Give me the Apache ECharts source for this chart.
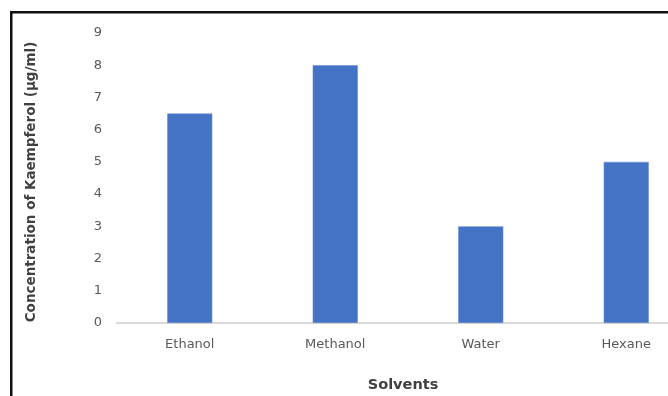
<!DOCTYPE html>
<html>
<head>
<meta charset="utf-8">
<script src="https://cdn.jsdelivr.net/npm/echarts@6/dist/echarts.min.js"></script>
<style>
  html, body { margin: 0; padding: 0; background: #fff; }
  #chart { width: 668px; height: 396px; }
</style>
</head>
<body>
<div id="chart"></div>
<script>
// Kaempferol concentration per extraction solvent
const solvents = ['Ethanol', 'Methanol', 'Water', 'Hexane'];
const concentration = [6.5, 8, 3, 5];
const yTicks = [0, 1, 2, 3, 4, 5, 6, 7, 8, 9];

const yTitle = 'Concentration of Kaempferol (µg/ml)';
const xTitle = 'Solvents';

const chart = echarts.init(document.getElementById('chart'), null, { renderer: 'canvas' });

const labelFont = '"DejaVu Sans", "Noto Sans", sans-serif';

chart.setOption({
  animation: false,
  backgroundColor: '#ffffff',
  // plot area runs past the right edge of the canvas
  grid: { left: 117, width: 582, top: 33, bottom: 73, containLabel: false, outerBoundsMode: 'none' },
  xAxis: {
    type: 'category',
    data: solvents,
    axisLine: { show: true, lineStyle: { color: '#d9d9d9', width: 2 } },
    axisTick: { show: false },
    axisLabel: { color: '#595959', fontSize: 13, fontFamily: labelFont, margin: 15 }
  },
  yAxis: {
    type: 'value',
    min: yTicks[0],
    max: yTicks[yTicks.length - 1],
    interval: 1,
    axisLine: { show: false },
    axisTick: { show: false },
    splitLine: { show: false },
    axisLabel: { color: '#595959', fontSize: 13, fontFamily: labelFont, margin: 15 }
  },
  series: [{
    type: 'bar',
    data: concentration,
    barWidth: '31%',
    itemStyle: { color: '#4472c4', borderColor: '#6a8fd3', borderWidth: 0.6 }
  }],
  graphic: [
    // frame edges along the top and left
    { type: 'rect', shape: { x: 10, y: 11, width: 700, height: 2.5 }, style: { fill: '#111' }, silent: true },
    { type: 'rect', shape: { x: 10, y: 11, width: 2.5, height: 400 }, style: { fill: '#111' }, silent: true },
    {
      type: 'text', x: 31, y: 182, rotation: Math.PI / 2,
      style: {
        text: yTitle, fill: '#404040', fontSize: 13.5, fontWeight: 'bold',
        fontFamily: labelFont, align: 'center', verticalAlign: 'middle'
      }
    },
    {
      type: 'text', x: 403, y: 385,
      style: {
        text: xTitle, fill: '#404040', fontSize: 14.5, fontWeight: 'bold',
        fontFamily: labelFont, align: 'center', verticalAlign: 'middle'
      }
    }
  ]
});
</script>
</body>
</html>
